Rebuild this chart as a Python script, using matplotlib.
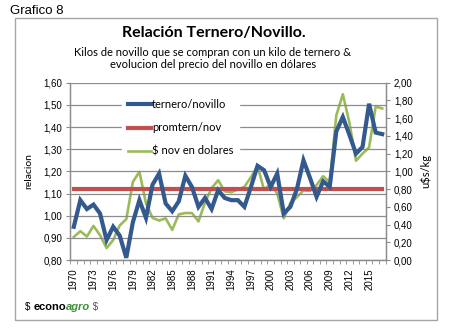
import matplotlib.pyplot as plt
from matplotlib.patches import Rectangle
from matplotlib.ticker import FuncFormatter, MultipleLocator

years = list(range(1970, 2018))

# kilos de novillo por kilo de ternero (eje izq.)
ternero_novillo = [0.95, 1.07, 1.03, 1.05, 1.01, 0.89, 0.95, 0.91, 0.81, 0.97,
                   1.07, 0.99, 1.14, 1.19, 1.055, 1.02, 1.065, 1.18, 1.13, 1.04,
                   1.08, 1.03, 1.115, 1.08, 1.07, 1.07, 1.04, 1.13, 1.225, 1.205,
                   1.13, 1.19, 1.01, 1.04, 1.12, 1.25, 1.17, 1.085, 1.155, 1.13,
                   1.38, 1.445, 1.365, 1.28, 1.31, 1.505, 1.375, 1.368]

prom_tern_nov = 1.12

# precio del novillo en u$s/kg (eje der.)
nov_dolares = [0.26, 0.325, 0.265, 0.385, 0.28, 0.135, 0.225, 0.39, 0.46, 0.88,
               0.995, 0.64, 0.475, 0.445, 0.47, 0.34, 0.515, 0.53, 0.53, 0.435,
               0.65, 0.81, 0.90, 0.775, 0.765, 0.795, 0.825, 0.935, 1.06, 0.79,
               0.86, 0.75, 0.47, 0.64, 0.71, 0.785, 0.78, 0.845, 0.945, 0.875,
               1.63, 1.87, 1.55, 1.12, 1.20, 1.27, 1.73, 1.71]

BLUE = '#33598E'
RED = '#C0504D'
GREEN = '#9BBB59'
GRID = '#8C8C8C'

fig = plt.figure(figsize=(4.52, 3.29), dpi=100)
fig.patch.set_facecolor('white')

# marco del grafico
fig.patches.append(Rectangle((15 / 452, 1 - 320 / 329), 422 / 452, 302 / 329,
                             transform=fig.transFigure, fill=False,
                             edgecolor='#A6A6A6', linewidth=1.0))

fig.text(10 / 452, 1 - 11 / 329, 'Grafico 8', fontsize=9.5,
         family='Liberation Sans', va='center', ha='left')
fig.text(214 / 452, 1 - 33 / 329, 'Relación Ternero/Novillo.', fontsize=11.5,
         family='Lato', weight='bold', ha='center', va='center')
fig.text(213 / 452, 1 - 52 / 329, 'Kilos de novillo que se compran con un kilo de ternero &',
         fontsize=8, family='Lato', ha='center', va='center')
fig.text(213 / 452, 1 - 64.5 / 329, 'evolucion del precio del novillo en dólares',
         fontsize=8, family='Lato', ha='center', va='center')

ax = fig.add_axes([70.5 / 452, 1 - 260 / 329, 315 / 452, 177.3 / 329])
ax2 = ax.twinx()

x = list(range(len(years)))
l1, = ax.plot(x, ternero_novillo, color=BLUE, lw=3.0, solid_joinstyle='miter',
              label='ternero/novillo', zorder=4)
l2, = ax.plot(x, [prom_tern_nov] * len(x), color=RED, lw=3.0,
              label='promtern/nov', zorder=3)
l3, = ax2.plot(x, nov_dolares, color=GREEN, lw=1.9, label='$ nov en dolares', zorder=3)

ax.set_zorder(ax2.get_zorder() + 1)
ax.patch.set_visible(False)

ax.set_xlim(-0.5, len(years) - 0.5)
ax.set_ylim(0.80, 1.60)
ax2.set_ylim(0.0, 2.0)

ax.yaxis.set_major_locator(MultipleLocator(0.1))
ax2.yaxis.set_major_locator(MultipleLocator(0.2))
ax.yaxis.set_major_formatter(FuncFormatter(lambda v, p: f'{v:.2f}'.replace('.', ',')))
ax2.yaxis.set_major_formatter(FuncFormatter(lambda v, p: f'{v:.2f}'.replace('.', ',')))
ax.grid(axis='y', color=GRID, lw=0.9)
ax.set_axisbelow(True)

ax.set_xticks(x[::3])
ax.set_xticklabels([str(y) for y in years[::3]], rotation=90)
ax.set_xticks([i - 0.5 for i in range(len(years) + 1)], minor=True)
ax.tick_params(axis='x', which='major', length=0, pad=6)
ax.tick_params(axis='x', which='minor', length=3, color=GRID, direction='out')

for a in (ax, ax2):
    a.tick_params(axis='y', length=3, color=GRID, labelsize=7, pad=3)
    for lab in a.get_yticklabels():
        lab.set_family('Liberation Sans')
    a.spines['top'].set_visible(False)
    for s in ('left', 'right', 'bottom'):
        a.spines[s].set_color(GRID)
        a.spines[s].set_linewidth(0.9)
for lab in ax.get_xticklabels():
    lab.set_family('Liberation Sans')
    lab.set_fontsize(7)

ax.set_ylabel('relacion', fontsize=7.5, family='Lato', labelpad=7)
ax2.set_ylabel('u$s/kg', fontsize=8, family='Lato', labelpad=5)

leg = ax.legend(handles=[l1, l2, l3], loc='upper left',
                bbox_to_anchor=(52 / 315, 1 - 11 / 177.3),
                frameon=True, fancybox=False, framealpha=1, edgecolor='white',
                prop={'family': 'Lato', 'size': 8},
                handlelength=2.1, handletextpad=0.05, labelspacing=1.1,
                borderpad=0.5, borderaxespad=0)
leg.set_zorder(5)

# logo
fig.canvas.draw()
r = fig.canvas.get_renderer()
xpos = 25 / 452
ypos = 1 - 307 / 329
parts = [('$ ', 'black', 'normal', 'normal', 7),
         ('econo', 'black', 'bold', 'normal', 8),
         ('agro', '#3E8E3A', 'bold', 'italic', 8),
         (' $', '#555555', 'normal', 'normal', 7)]
for txt, col, w, st, fs in parts:
    t = fig.text(xpos, ypos, txt, color=col, weight=w, style=st, fontsize=fs,
                 family='Liberation Sans', va='center', ha='left')
    bb = t.get_window_extent(renderer=r)
    xpos += bb.width / fig.bbox.width

fig.savefig('out.png', dpi=100)
